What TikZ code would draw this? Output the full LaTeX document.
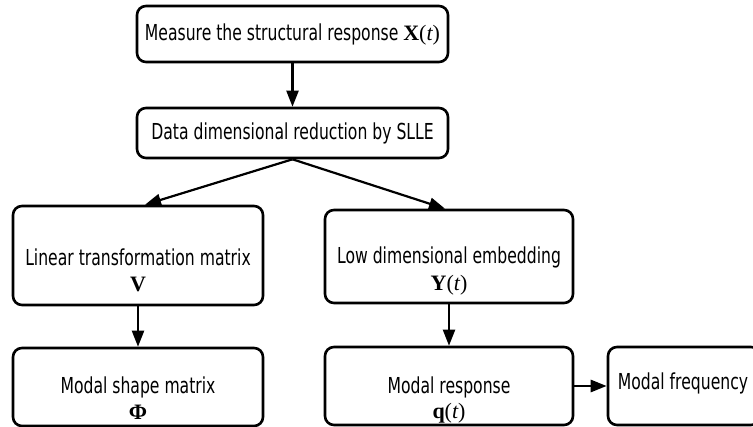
\documentclass[tikz,border=0pt]{standalone}
\usepackage{fontspec}
\setmainfont{DejaVu Sans}[FakeStretch=0.71]
\newfontfamily\mserif{Liberation Serif}
\usetikzlibrary{arrows.meta}
\newcommand{\bv}[1]{{\mserif\bfseries #1}}
\newcommand{\iv}[1]{{\mserif\itshape #1}}
\newcommand{\pr}[1]{{\mserif #1}}
\begin{document}
\begin{tikzpicture}[x=1pt,y=-1pt,
  box/.style={draw, line width=2.6pt, rounded corners=9pt, inner sep=0pt},
  lbl/.style={font=\fontsize{22}{24}\selectfont, inner sep=0pt, anchor=center},
  arr/.style={line width=2.2pt, -{Triangle[length=16pt,width=12pt]}}]
\useasboundingbox (0,0) rectangle (753,427);
% boxes
\node[box, minimum width=311pt, minimum height=56pt] (A) at (292.5,34) {};
\node[box, minimum width=311pt, minimum height=50pt] (B) at (292.5,133) {};
\node[box, minimum width=250pt, minimum height=99pt] (C) at (138,255.5) {};
\node[box, minimum width=248pt, minimum height=93pt] (D) at (449,256.5) {};
\node[box, minimum width=250pt, minimum height=78pt] (E) at (138,387) {};
\node[box, minimum width=248pt, minimum height=78pt] (F) at (449,386) {};
\node[box, minimum width=152pt, minimum height=78pt] (G) at (684,386) {};
% texts
\node[lbl] (tA) at (292.5,34) {Measure the structural response \bv{X}\pr{(}\iv{t}\pr{)}};
\node[lbl] (tB) at (292.5,133) {Data dimensional reduction by SLLE};
\node[lbl] (tC1) at (138,257) {Linear transformation matrix};
\node[lbl] (tC2) at (138,284) {\bv{V}};
\node[lbl] (tD1) at (449,257) {Low dimensional embedding};
\node[lbl] (tD2) at (449,285) {\bv{Y}\pr{(}\iv{t}\pr{)}};
\node[lbl] (tE1) at (138,387) {Modal shape matrix};
\node[lbl] (tE2) at (138,412) {\bv{Φ}};
\node[lbl] (tF1) at (449,387) {Modal response};
\node[lbl] (tF2) at (449,413) {\bv{q}\pr{(}\iv{t}\pr{)}};
\node[lbl] (tG) at (683,383) {Modal frequency};
% connectors
\draw[arr] (A.south) -- (B.north);
\draw[arr] (B.south) -- ([xshift=7pt]C.north);
\draw[arr] (B.south) -- ([xshift=-4pt]D.north);
\draw[arr] (C.south) -- (E.north);
\draw[arr] (D.south) -- (F.north);
\draw[arr, line width=2.8pt] (F.east) -- (G.west);
\end{tikzpicture}
\end{document}
